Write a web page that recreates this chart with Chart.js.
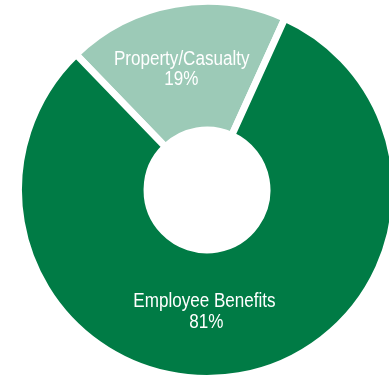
<!DOCTYPE html>
<html>
<head>
<meta charset="utf-8">
<script src="https://cdn.jsdelivr.net/npm/chart.js@4/dist/chart.umd.min.js"></script>
<style>
  html, body { margin: 0; padding: 0; overflow: hidden; background: #fff; width: 389px; height: 378px; }
  #wrap { position: absolute; left: 15px; top: -2px; width: 384px; height: 384px; }
</style>
</head>
<body>
<div id="wrap"><canvas id="chart" width="384" height="384"></canvas></div>
<script>
let categories = ["Property/Casualty", "Employee Benefits"];
let shares = [19, 81];
let colors = ["#9ccab7", "#007b45"];

// label anchors relative to the ring centre: name line, then percent line
let nameSpots = [[-25.3, -125], [-2.5, 117]];
let pctSpots = [[-25.7, -105], [-0.7, 138]];

const ringLabels = {
  id: "ringLabels",
  afterDraw(chart) {
    let ctx = chart.ctx;
    let arc = chart.getDatasetMeta(0).data[0];
    let squeeze = 0.875; // condensed look
    ctx.save();
    ctx.fillStyle = "#ffffff";
    ctx.textAlign = "center";
    ctx.textBaseline = "alphabetic";
    ctx.font = "19.5px 'Liberation Sans', Arial, sans-serif";
    categories.forEach((name, i) => {
      let lines = [[name, nameSpots[i]], [shares[i] + "%", pctSpots[i]]];
      lines.forEach(([txt, spot]) => {
        ctx.save();
        ctx.translate(arc.x + spot[0], arc.y + spot[1]);
        ctx.scale(squeeze, 1);
        ctx.fillText(txt, 0, 0);
        ctx.restore();
      });
    });
    ctx.restore();
  }
};

let ctx = document.getElementById("chart").getContext("2d");
let chart = new Chart(ctx, {
  type: "doughnut",
  data: {
    labels: categories,
    datasets: [{
      data: shares,
      backgroundColor: colors,
      borderColor: "#ffffff",
      borderWidth: 7,
      hoverOffset: 0
    }]
  },
  options: {
    responsive: false,
    animation: false,
    rotation: -44,
    cutout: "31.8%",
    layout: { padding: 0 },
    plugins: {
      legend: { display: false },
      tooltip: { enabled: false }
    }
  },
  plugins: [ringLabels]
});
</script>
</body>
</html>
